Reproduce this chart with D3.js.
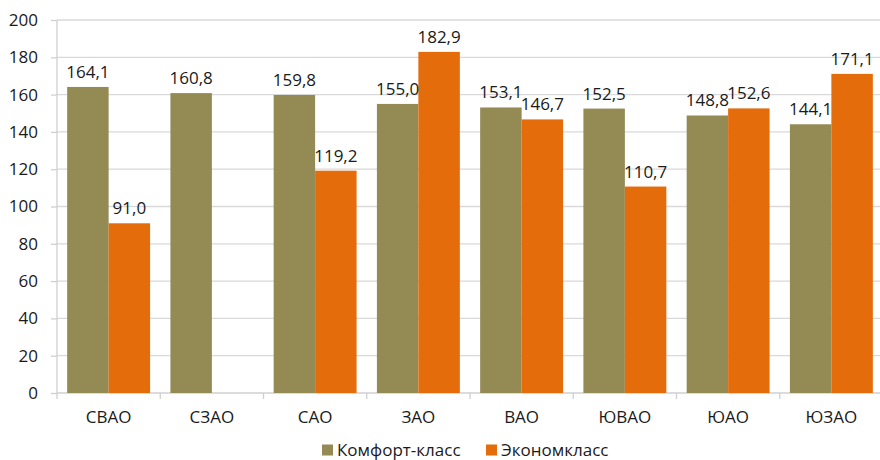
<!DOCTYPE html>
<html><head><meta charset="utf-8">
<script src="https://cdn.jsdelivr.net/npm/d3@7"></script>
<style>body{margin:0;background:#fff}svg{display:block}text{font-family:"Open Sans","Noto Sans",sans-serif;fill:#1a1a1a}</style>
</head><body><svg id="c" width="880" height="460"></svg>
<script>
const categories = ["СВАО","СЗАО","САО","ЗАО","ВАО","ЮВАО","ЮАО","ЮЗАО"];
const seriesNames = ["Комфорт-класс","Экономкласс"];
const comfort = [164.1,160.8,159.8,155.0,153.1,152.5,148.8,144.1];
const econom = [91.0,null,119.2,182.9,146.7,110.7,152.6,171.1];
const yTicks = [0,20,40,60,80,100,120,140,160,180,200];
const colors = ["#948A54","#E46C0A"];

(function(){
const FS = 17;
const svg = d3.select("#c");
const pL = 57, pR = 883, pT = 20, pB = 393;
const x = d3.scaleBand().domain(categories).range([pL,pR]).paddingInner(0).paddingOuter(0);
const inner = d3.scaleBand().domain([0,1]).range([0,x.bandwidth()]).paddingInner(0).paddingOuter(0.245);
const y = d3.scaleLinear().domain([0,200]).range([pB,pT]);
const fmt = v => d3.format(".1f")(v).replace(".",",");

svg.append("g").selectAll("line").data(yTicks.filter(d=>d>0)).join("line")
  .attr("x1",pL).attr("x2",880).attr("y1",d=>y(d)).attr("y2",d=>y(d))
  .attr("stroke","#d9d9d9").attr("stroke-width",1.3);

const yAxis = svg.append("g").attr("transform",`translate(${pL},0)`)
  .call(d3.axisLeft(y).tickValues(yTicks).tickSize(6).tickPadding(13).tickFormat(d=>d));
yAxis.select(".domain").attr("stroke","#d0d0d0").attr("stroke-width",1.3).attr("d",`M0,${pT}V${pB+6}`);
yAxis.selectAll(".tick line").attr("stroke","#d0d0d0").attr("stroke-width",1.3);
yAxis.selectAll(".tick text").attr("font-size",FS).style("fill","#1a1a1a");

const xAxis = svg.append("g").attr("transform",`translate(0,${pB})`)
  .call(d3.axisBottom(x).tickSize(0).tickPadding(18));
xAxis.select(".domain").attr("stroke","#d0d0d0").attr("stroke-width",1.5).attr("d",`M${pL},0H880`);
xAxis.selectAll(".tick text").attr("font-size",FS).style("fill","#1a1a1a");
svg.append("g").selectAll("line").data(categories.slice(1)).join("line")
  .attr("x1",d=>x(d)).attr("x2",d=>x(d)).attr("y1",pB).attr("y2",pB+6)
  .attr("stroke","#d0d0d0").attr("stroke-width",1.3);

const rows = [];
categories.forEach((c,i)=>{
  [comfort[i],econom[i]].forEach((v,s)=>{ if(v!=null) rows.push({c,s,v}); });
});
svg.append("g").selectAll("rect").data(rows).join("rect")
  .attr("x",d=>x(d.c)+inner(d.s)).attr("width",inner.bandwidth())
  .attr("y",d=>y(d.v)).attr("height",d=>pB-y(d.v))
  .attr("fill",d=>colors[d.s]);
svg.append("g").selectAll("text").data(rows).join("text")
  .attr("x",d=>x(d.c)+inner(d.s)+inner.bandwidth()/2)
  .attr("y",d=>y(d.v)-9).attr("text-anchor","middle").attr("font-size",FS)
  .text(d=>fmt(d.v));

const lg = svg.append("g");
const lx = [322,486];
seriesNames.forEach((n,i)=>{
  lg.append("rect").attr("x",lx[i]).attr("y",444.5).attr("width",11).attr("height",11).attr("fill",colors[i]);
  lg.append("text").attr("x",lx[i]+15).attr("y",456).attr("font-size",FS).text(n);
});
})();
</script></body></html>
